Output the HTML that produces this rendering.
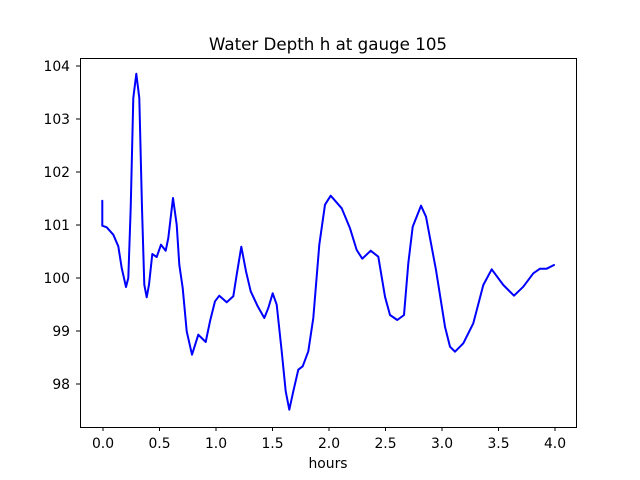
<!DOCTYPE html>
<html><head><style>body{margin:0;background:#fff}svg{display:block}text{font-family:"DejaVu Sans","Liberation Sans",sans-serif;font-size:13.9px;fill:#000}</style></head><body>
<svg width="640" height="480" xmlns="http://www.w3.org/2000/svg">
<rect width="640" height="480" fill="#fff"/>
<text x="328" y="50" text-anchor="middle" style="font-size:16.7px">Water Depth h at gauge 105</text>
<polyline fill="none" stroke="#0000ff" stroke-width="2" stroke-linejoin="round" stroke-linecap="round" points="102.3,200.7 102.3,225.7 106.7,227.3 113.3,234.7 118.3,246.3 121.7,268 126,287 128.3,278 130.7,208 133.3,98 136.3,73.7 139.3,98 142,208 144.3,284.7 146.7,297.3 149,284.7 152.3,254 156.7,257 161,244.7 165.7,250.7 168.3,238 173,198 176.7,224.7 179.3,264.7 182.7,288 186.7,331.3 192,354.7 198.3,334.7 205.7,342 210,321.3 215,301.3 219.3,295.7 226.7,302.3 233.3,296.3 236.7,274.7 241.3,246.7 246,271.3 250.7,291.3 257.7,306.3 264.3,318 268.3,308 272.7,293.3 276.7,304.7 281.7,351.3 285.7,391.3 289.3,409.7 293.3,391.3 298.3,369.7 302.7,366.3 308.3,351.3 313.3,318 319.3,244.7 325,204.7 330.7,195.7 341.7,208.3 350,228.3 356.7,250 362.3,258.7 370.7,250.7 378.3,256.7 385,296.7 390,315 397.3,320 404,315 408.3,263.3 412.7,226.7 421,205.7 426,216.7 436,270 445,326.7 450,346.7 455,351.7 463.3,343.3 473.3,323.3 483.3,285 491.7,269.3 503.3,285 514,295.7 523.3,286.7 533.3,273.3 540,268.7 546.7,268.7 554,265"/>
<rect x="80.5" y="58.5" width="496" height="369" fill="none" stroke="#000" stroke-width="1"/>
<g stroke="#000" stroke-width="1">
<line x1="103" y1="427" x2="103" y2="431"/><line x1="159.5" y1="427" x2="159.5" y2="431"/><line x1="216" y1="427" x2="216" y2="431"/><line x1="272.5" y1="427" x2="272.5" y2="431"/><line x1="329" y1="427" x2="329" y2="431"/><line x1="385.5" y1="427" x2="385.5" y2="431"/><line x1="442" y1="427" x2="442" y2="431"/><line x1="498.5" y1="427" x2="498.5" y2="431"/><line x1="555" y1="427" x2="555" y2="431"/>
<line x1="76" y1="66" x2="80" y2="66"/><line x1="76" y1="119" x2="80" y2="119"/><line x1="76" y1="172" x2="80" y2="172"/><line x1="76" y1="225" x2="80" y2="225"/><line x1="76" y1="278" x2="80" y2="278"/><line x1="76" y1="331" x2="80" y2="331"/><line x1="76" y1="384" x2="80" y2="384"/>
</g>
<g text-anchor="middle">
<text x="103" y="448">0.0</text><text x="159.5" y="448">0.5</text><text x="216" y="448">1.0</text><text x="272.5" y="448">1.5</text><text x="329" y="448">2.0</text><text x="385.5" y="448">2.5</text><text x="442" y="448">3.0</text><text x="498.5" y="448">3.5</text><text x="555" y="448">4.0</text>
<text x="328" y="468">hours</text>
</g>
<g text-anchor="end">
<text x="70" y="71">104</text><text x="70" y="124">103</text><text x="70" y="177">102</text><text x="70" y="230">101</text><text x="70" y="283">100</text><text x="70" y="336">99</text><text x="70" y="389">98</text>
</g>
</svg>
</body></html>
